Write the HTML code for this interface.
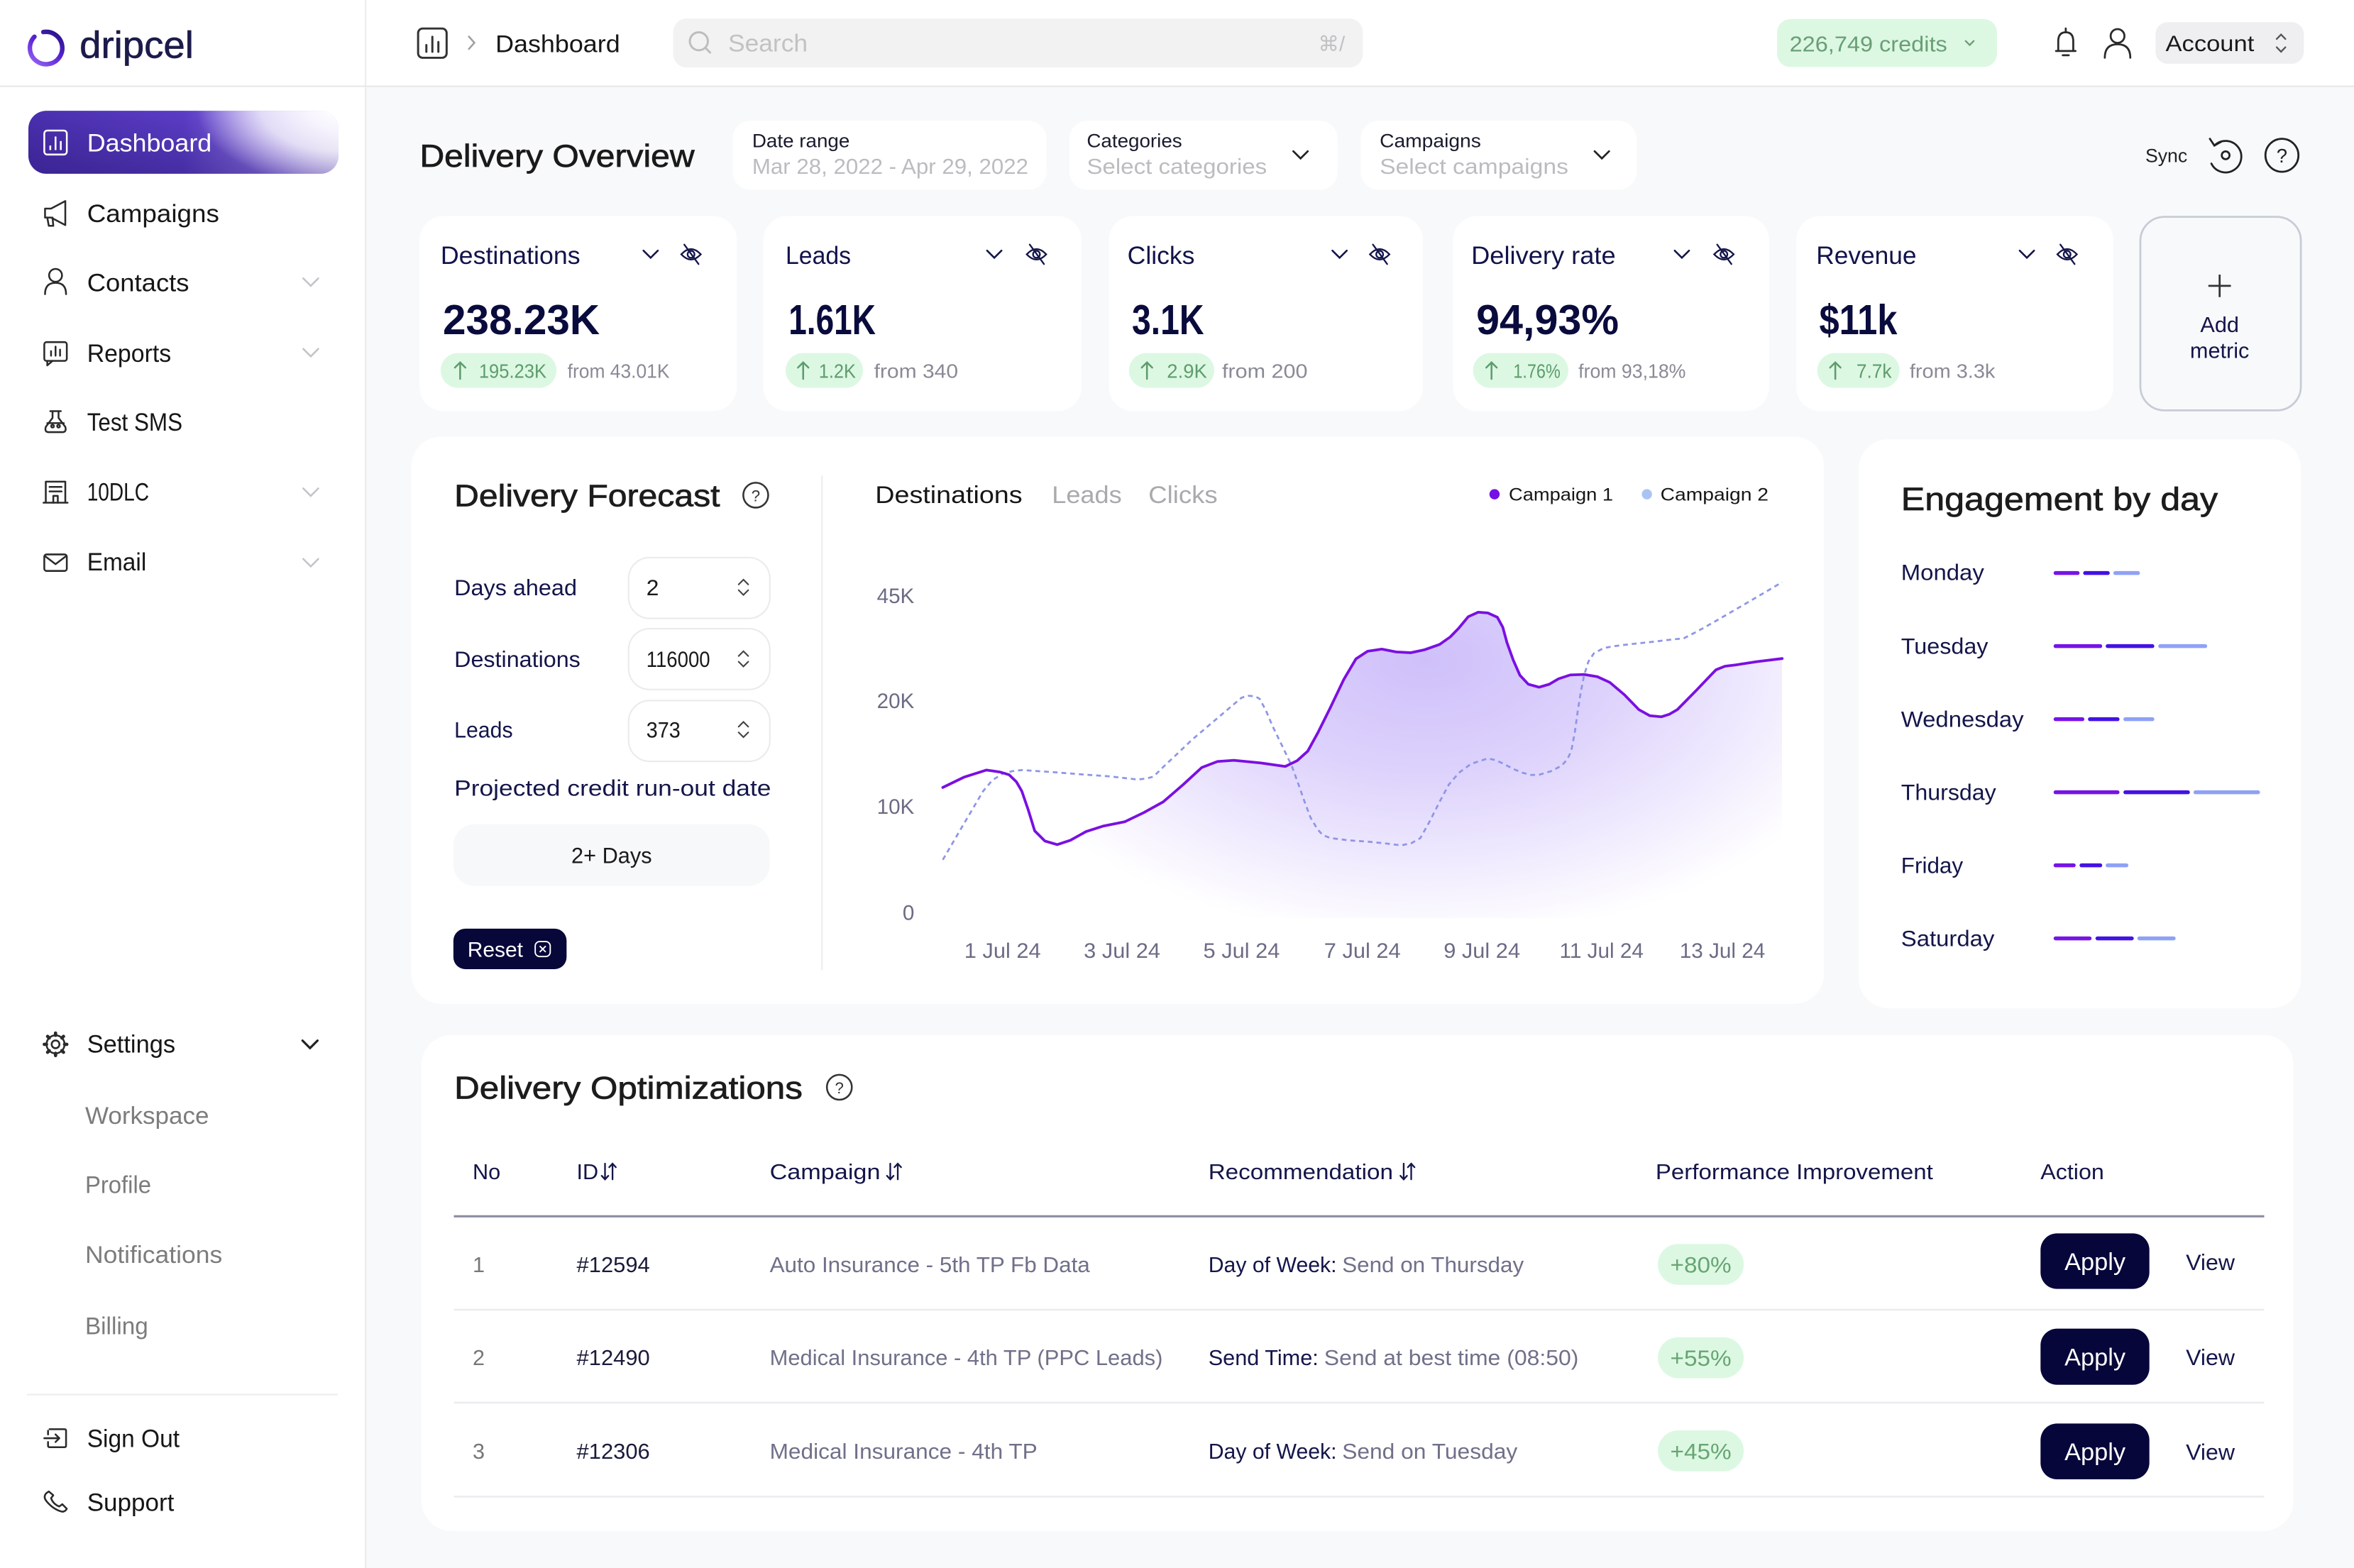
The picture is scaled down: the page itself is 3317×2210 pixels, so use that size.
<!DOCTYPE html>
<html><head><meta charset="utf-8"><style>
html,body{margin:0;padding:0;background:#f8f9fb;overflow:hidden;width:3317px;height:2210px}
svg{display:block}
text{font-family:"Liberation Sans","DejaVu Sans",sans-serif;}
</style></head><body>
<svg xmlns="http://www.w3.org/2000/svg" width="3317" height="2210" viewBox="0 0 1568 1045" preserveAspectRatio="none">
<defs>
 <linearGradient id="pill" x1="0" y1="0" x2="1" y2="0">
  <stop offset="0" stop-color="#4a2fae"/>
  <stop offset="0.5" stop-color="#5b3dc6"/>
  <stop offset="0.82" stop-color="#9c81ef"/>
  <stop offset="1" stop-color="#cdbffb"/>
 </linearGradient>
 <linearGradient id="pillDark" x1="0" y1="0" x2="0" y2="1">
  <stop offset="0" stop-color="#1e1060" stop-opacity="0"/>
  <stop offset="1" stop-color="#1e1060" stop-opacity="0.35"/>
 </linearGradient>
 <radialGradient id="pillWhite" cx="226" cy="72" r="95" gradientUnits="userSpaceOnUse" gradientTransform="translate(226 72) scale(1 0.55) translate(-226 -72)">
  <stop offset="0" stop-color="#ffffff" stop-opacity="1"/>
  <stop offset="0.55" stop-color="#ffffff" stop-opacity="0.75"/>
  <stop offset="1" stop-color="#ffffff" stop-opacity="0"/>
 </radialGradient>
 <linearGradient id="logoG" x1="0" y1="0" x2="1" y2="1">
  <stop offset="0" stop-color="#9a6af5"/>
  <stop offset="0.5" stop-color="#5a23d6"/>
  <stop offset="1" stop-color="#22127a"/>
 </linearGradient>
 <radialGradient id="areaG" cx="950" cy="440" r="310" gradientUnits="userSpaceOnUse" gradientTransform="translate(950 440) scale(1 0.6) translate(-950 -440)">
  <stop offset="0" stop-color="#cfc0fa"/>
  <stop offset="0.4" stop-color="#ddd2fc"/>
  <stop offset="0.75" stop-color="#f1ecfe"/>
  <stop offset="1" stop-color="#ffffff"/>
 </radialGradient>
 <clipPath id="chartClip"><rect x="600" y="300" width="587" height="312"/></clipPath>
</defs>

<!-- backgrounds -->
<rect x="0" y="0" width="1568" height="1045" fill="#f8f9fb"/>
<rect x="0" y="0" width="243.5" height="1045" fill="#ffffff"/>
<rect x="243.5" y="0" width="1324.5" height="57.5" fill="#ffffff"/>
<line x1="243.5" y1="0" x2="243.5" y2="1045" stroke="#ececef" stroke-width="1"/>
<line x1="0" y1="57.5" x2="1568" y2="57.5" stroke="#e8e8eb" stroke-width="1"/>

<!-- logo -->
<circle cx="30.7" cy="32" r="10.8" fill="none" stroke="url(#logoG)" stroke-width="3" stroke-dasharray="61 7" transform="rotate(-100 30.7 32)" stroke-linecap="round"/>
<text x="53" y="38.5" font-size="25" fill="#1c1b4b" stroke="#1c1b4b" stroke-width="0.3" textLength="76" lengthAdjust="spacingAndGlyphs">dripcel</text>

<!-- active pill -->
<rect x="18.9" y="73.8" width="206.6" height="42" rx="12" fill="url(#pill)"/>
<rect x="18.9" y="73.8" width="206.6" height="42" rx="12" fill="url(#pillDark)"/>
<rect x="18.9" y="73.8" width="206.6" height="42" rx="12" fill="url(#pillWhite)"/>
<g stroke="#ffffff" stroke-width="1.2" fill="none">
 <rect x="29.5" y="87" width="15" height="16" rx="2"/>
 <line x1="33.5" y1="97" x2="33.5" y2="100"/>
 <line x1="37" y1="91" x2="37" y2="100"/>
 <line x1="40.5" y1="94" x2="40.5" y2="100"/>
</g>
<text x="58" y="100.9" font-size="16.5" fill="#ffffff" textLength="83" lengthAdjust="spacingAndGlyphs">Dashboard</text>

<!-- nav items -->
<g font-size="16.5" fill="#161616">
 <text x="58" y="147.9" textLength="88" lengthAdjust="spacingAndGlyphs">Campaigns</text>
 <text x="58" y="194.1" textLength="68" lengthAdjust="spacingAndGlyphs">Contacts</text>
 <text x="58" y="241.2" textLength="56" lengthAdjust="spacingAndGlyphs">Reports</text>
 <text x="58" y="287" textLength="63.5" lengthAdjust="spacingAndGlyphs">Test SMS</text>
 <text x="58" y="333.5" textLength="41.3" lengthAdjust="spacingAndGlyphs">10DLC</text>
 <text x="58" y="380.1" textLength="39.5" lengthAdjust="spacingAndGlyphs">Email</text>
 <text x="58" y="701.5" textLength="58.8" lengthAdjust="spacingAndGlyphs">Settings</text>
 <text x="58" y="964.4" textLength="61.6" lengthAdjust="spacingAndGlyphs">Sign Out</text>
 <text x="58" y="1006.9" textLength="58" lengthAdjust="spacingAndGlyphs">Support</text>
</g>
<g font-size="16" fill="#7c7c7c">
 <text x="56.7" y="748.9" textLength="82.5" lengthAdjust="spacingAndGlyphs">Workspace</text>
 <text x="56.7" y="795" textLength="44" lengthAdjust="spacingAndGlyphs">Profile</text>
 <text x="56.7" y="841.6" textLength="91.4" lengthAdjust="spacingAndGlyphs">Notifications</text>
 <text x="56.7" y="889.1" textLength="42" lengthAdjust="spacingAndGlyphs">Billing</text>
</g>
<line x1="18" y1="929.4" x2="225" y2="929.4" stroke="#ececef" stroke-width="1"/>

<!-- nav icons -->
<g stroke="#2a2a2a" stroke-width="1.2" fill="none" stroke-linejoin="round" stroke-linecap="round">
 <path d="M30 139 L30 145 L34 145 L43.5 150 L43.5 134 L34 139 Z"/>
 <path d="M31.5 145 L32.5 150.5 L35.5 150.5 L35 145"/>
 <circle cx="37" cy="183.5" r="4.3"/>
 <path d="M30 196 Q30 188.5 37 188.5 Q44 188.5 44 196"/>
 <rect x="29.5" y="228" width="15" height="12.5" rx="1.5"/>
 <path d="M31.5 240.5 L31.5 243.5 L35 240.5"/>
 <line x1="34" y1="234" x2="34" y2="237"/>
 <line x1="37" y1="231" x2="37" y2="237"/>
 <line x1="40" y1="233" x2="40" y2="237"/>
 <path d="M33.5 274 L40.5 274 M35 274 L35 278.5 L30.5 284.5 Q29.5 288 32.5 288 L41.5 288 Q44.5 288 43.5 284.5 L39 278.5 L39 274"/>
 <circle cx="35" cy="284" r="0.9"/>
 <circle cx="39" cy="284" r="0.9"/>
 <path d="M31.5 282 L42.5 282"/>
 <path d="M29 335 L45 335 M30.5 335 L30.5 321 L43.5 321 L43.5 335"/>
 <path d="M33 324.5 L41 324.5 M33 327.5 L41 327.5 M35.5 335 L35.5 330.5 L38.5 330.5 L38.5 335"/>
 <rect x="29.5" y="369.5" width="15" height="11" rx="1.5"/>
 <path d="M29.8 370.5 L37 376 L44.2 370.5"/>
 <circle cx="37" cy="696" r="2.6"/>
 <circle cx="37" cy="696" r="6"/>
 <g stroke-width="2.2">
  <line x1="37" y1="688.5" x2="37" y2="690"/>
  <line x1="37" y1="702" x2="37" y2="703.5"/>
  <line x1="29.5" y1="696" x2="31" y2="696"/>
  <line x1="43" y1="696" x2="44.5" y2="696"/>
  <line x1="31.7" y1="690.7" x2="32.8" y2="691.8"/>
  <line x1="41.2" y1="700.2" x2="42.3" y2="701.3"/>
  <line x1="31.7" y1="701.3" x2="32.8" y2="700.2"/>
  <line x1="41.2" y1="691.8" x2="42.3" y2="690.7"/>
 </g>
 <path d="M33 952.5 L43 952.5 Q44 952.5 44 953.5 L44 963.5 Q44 964.5 43 964.5 L33 964.5 Q32 964.5 32 963.5 L32 961"/>
 <path d="M32 956 L32 953.5"/>
 <path d="M29.5 958.5 L39.5 958.5 M37 956 L39.5 958.5 L37 961"/>
 <path d="M31 995 Q28.5 997.5 31 1000.5 Q35.5 1006 41.5 1007.5 Q43.5 1007.5 44.5 1005.5 L41.5 1002.5 L39.5 1004 Q35.5 1002.5 34 998.5 L35.5 996.5 L32.5 994 Z"/>
</g>
<g stroke="#c4c4c8" stroke-width="1.2" fill="none" stroke-linecap="round">
 <path d="M202 185.5 L207 190.5 L212 185.5"/>
 <path d="M202 232.5 L207 237.5 L212 232.5"/>
 <path d="M202 325.5 L207 330.5 L212 325.5"/>
 <path d="M202 372.5 L207 377.5 L212 372.5"/>
</g>
<path d="M201.5 693.5 L206.5 698.5 L211.5 693.5" stroke="#222" stroke-width="1.5" fill="none" stroke-linecap="round"/>

<!-- header -->
<g stroke="#333" stroke-width="1.4" fill="none" stroke-linecap="round">
 <rect x="278.5" y="19" width="19" height="19.5" rx="3"/>
 <line x1="284" y1="30" x2="284" y2="34.5"/>
 <line x1="288" y1="24.5" x2="288" y2="34.5"/>
 <line x1="292" y1="28" x2="292" y2="34.5"/>
</g>
<path d="M312 24 L316 28.5 L312 33" stroke="#a0a0a0" stroke-width="1.2" fill="none"/>
<text x="330" y="34.8" font-size="16" fill="#161616" textLength="83" lengthAdjust="spacingAndGlyphs">Dashboard</text>

<rect x="448.4" y="12.3" width="459.4" height="32.7" rx="9" fill="#f2f2f3"/>
<g stroke="#bdbdbd" stroke-width="1.4" fill="none" stroke-linecap="round">
 <circle cx="465.5" cy="27.5" r="6"/>
 <line x1="469.8" y1="31.8" x2="473" y2="35"/>
</g>
<text x="485" y="34.3" font-size="16" fill="#c2c2c4" textLength="53" lengthAdjust="spacingAndGlyphs">Search</text>
<text x="878" y="34" font-size="14" fill="#c2c2c4">⌘/</text>

<rect x="1183.7" y="12.7" width="146.5" height="32" rx="9" fill="#dcf8e2"/>
<text x="1192" y="34.2" font-size="14.5" fill="#6a9e76" textLength="105" lengthAdjust="spacingAndGlyphs">226,749 credits</text>
<path d="M1309 27 L1312 30 L1315 27" stroke="#6a9e76" stroke-width="1.1" fill="none"/>

<g stroke="#2a2a2a" stroke-width="1.3" fill="none" stroke-linecap="round" stroke-linejoin="round">
 <path d="M1369.5 34 L1382.5 34 M1371 34 L1371 27.5 Q1371 21.5 1376 21.5 Q1381 21.5 1381 27.5 L1381 34"/>
 <path d="M1374 36.8 L1378 36.8 M1376 19 L1376 21.5"/>
 <circle cx="1410.5" cy="24" r="4.6"/>
 <path d="M1402 38.5 Q1402 29.5 1410.5 29.5 Q1419 29.5 1419 38.5"/>
</g>
<rect x="1435.8" y="14.8" width="98.8" height="27.7" rx="8" fill="#efeff1"/>
<text x="1442.5" y="34.1" font-size="15" fill="#1a1a1a" textLength="59" lengthAdjust="spacingAndGlyphs">Account</text>
<g stroke="#555" stroke-width="1.1" fill="none" stroke-linecap="round">
 <path d="M1516.5 26 L1519.4 23 L1522.3 26"/>
 <path d="M1516.5 31.5 L1519.4 34.5 L1522.3 31.5"/>
</g>

<!-- Delivery overview header -->
<text x="279.6" y="111.1" font-size="21" fill="#1a1a1a" stroke="#1a1a1a" stroke-width="0.35" textLength="183" lengthAdjust="spacingAndGlyphs">Delivery Overview</text>

<rect x="488" y="80.5" width="209" height="46" rx="12" fill="#ffffff"/>
<rect x="712.4" y="80.5" width="178.6" height="46" rx="12" fill="#ffffff"/>
<rect x="906.4" y="80.5" width="183.7" height="46" rx="12" fill="#ffffff"/>
<g font-size="12.5" fill="#1a1a2e">
 <text x="501" y="98.1" textLength="65" lengthAdjust="spacingAndGlyphs">Date range</text>
 <text x="723.9" y="98.1" textLength="63.5" lengthAdjust="spacingAndGlyphs">Categories</text>
 <text x="919" y="98.1" textLength="67.5" lengthAdjust="spacingAndGlyphs">Campaigns</text>
</g>
<g font-size="14.5" fill="#bcbcc0">
 <text x="501" y="115.9" textLength="184" lengthAdjust="spacingAndGlyphs">Mar 28, 2022 - Apr 29, 2022</text>
 <text x="723.9" y="115.9" textLength="120" lengthAdjust="spacingAndGlyphs">Select categories</text>
 <text x="919" y="115.9" textLength="125.7" lengthAdjust="spacingAndGlyphs">Select campaigns</text>
</g>
<g stroke="#222" stroke-width="1.3" fill="none" stroke-linecap="round">
 <path d="M861.5 100.8 L866.3 105.6 L871.1 100.8"/>
 <path d="M1062.2 100.8 L1067 105.6 L1071.8 100.8"/>
</g>
<text x="1429" y="108" font-size="12.5" fill="#222" textLength="28" lengthAdjust="spacingAndGlyphs">Sync</text>
<g stroke="#222" stroke-width="1.3" fill="none" stroke-linecap="round">
 <path d="M1475 97 A10.5 10.5 0 1 1 1473 109"/>
 <path d="M1472 92.5 L1475 97 L1479.5 94.5"/>
 <circle cx="1482.5" cy="103.5" r="2.6"/>
 <circle cx="1520" cy="103.5" r="11"/>
</g>
<text x="1520" y="108.3" font-size="13" fill="#222" text-anchor="middle">?</text>

<!-- metric cards -->
<g fill="#ffffff">
 <rect x="279.5" y="144" width="211.3" height="130" rx="16"/>
 <rect x="508.5" y="144" width="211.9" height="130" rx="16"/>
 <rect x="738.6" y="144" width="209.2" height="130" rx="16"/>
 <rect x="967.9" y="144" width="210.5" height="130" rx="16"/>
 <rect x="1196.5" y="144" width="211.2" height="130" rx="16"/>
</g>
<rect x="1425.7" y="144.5" width="106.9" height="129" rx="16" fill="#f8f9fb" stroke="#c8ccd6" stroke-width="1.3"/>
<g stroke="#333" stroke-width="1.3"><line x1="1478.5" y1="183" x2="1478.5" y2="198"/><line x1="1471" y1="190.5" x2="1486" y2="190.5"/></g>
<g font-size="14.5" fill="#14154a" text-anchor="middle">
 <text x="1478.5" y="221.4">Add</text>
 <text x="1478.5" y="238.6">metric</text>
</g>

<g font-size="16.5" fill="#12134a">
 <text x="293.5" y="175.9" textLength="93" lengthAdjust="spacingAndGlyphs">Destinations</text>
 <text x="523.3" y="175.9" textLength="43.5" lengthAdjust="spacingAndGlyphs">Leads</text>
 <text x="751" y="175.9" textLength="44.8" lengthAdjust="spacingAndGlyphs">Clicks</text>
 <text x="980" y="175.9" textLength="96.2" lengthAdjust="spacingAndGlyphs">Delivery rate</text>
 <text x="1209.8" y="175.9" textLength="66.8" lengthAdjust="spacingAndGlyphs">Revenue</text>
</g>
<g font-size="28" font-weight="bold" fill="#0a0b3d">
 <text x="295" y="222.6" textLength="104.5" lengthAdjust="spacingAndGlyphs">238.23K</text>
 <text x="525.3" y="222.6" textLength="58" lengthAdjust="spacingAndGlyphs">1.61K</text>
 <text x="754" y="222.6" textLength="48" lengthAdjust="spacingAndGlyphs">3.1K</text>
 <text x="983.3" y="222.6" textLength="95" lengthAdjust="spacingAndGlyphs">94,93%</text>
 <text x="1211.8" y="222.6" textLength="52" lengthAdjust="spacingAndGlyphs">$11k</text>
</g>
<g stroke="#14154a" stroke-width="1.2" fill="none" stroke-linecap="round">
 <path d="M428.6 167 L433.4 171.8 L438.2 167"/>
 <path d="M657.5 167 L662.3 171.8 L667.1 167"/>
 <path d="M887.5 167 L892.3 171.8 L897.1 167"/>
 <path d="M1115.5 167 L1120.3 171.8 L1125.1 167"/>
 <path d="M1345.3 167 L1350.1 171.8 L1354.9 167"/>
</g>
<g stroke="#14154a" stroke-width="1.1" fill="none" stroke-linecap="round">
 <g transform="translate(460.3 169.5)"><path d="M-6.5 0 Q0 -7 6.5 0 Q0 7 -6.5 0Z"/><circle r="2.3"/><line x1="-4.5" y1="-6.5" x2="5" y2="6.5"/></g>
 <g transform="translate(690.4 169.5)"><path d="M-6.5 0 Q0 -7 6.5 0 Q0 7 -6.5 0Z"/><circle r="2.3"/><line x1="-4.5" y1="-6.5" x2="5" y2="6.5"/></g>
 <g transform="translate(919 169.5)"><path d="M-6.5 0 Q0 -7 6.5 0 Q0 7 -6.5 0Z"/><circle r="2.3"/><line x1="-4.5" y1="-6.5" x2="5" y2="6.5"/></g>
 <g transform="translate(1148.3 169.5)"><path d="M-6.5 0 Q0 -7 6.5 0 Q0 7 -6.5 0Z"/><circle r="2.3"/><line x1="-4.5" y1="-6.5" x2="5" y2="6.5"/></g>
 <g transform="translate(1376.9 169.5)"><path d="M-6.5 0 Q0 -7 6.5 0 Q0 7 -6.5 0Z"/><circle r="2.3"/><line x1="-4.5" y1="-6.5" x2="5" y2="6.5"/></g>
</g>
<g fill="#dcf8e2">
 <rect x="293.5" y="235.3" width="77.2" height="23.2" rx="11.6"/>
 <rect x="523.3" y="235.3" width="51.5" height="23.2" rx="11.6"/>
 <rect x="752" y="235.3" width="56.8" height="23.2" rx="11.6"/>
 <rect x="981.2" y="235.3" width="63.5" height="23.2" rx="11.6"/>
 <rect x="1210.5" y="235.3" width="54.8" height="23.2" rx="11.6"/>
</g>
<g stroke="#5e9c6c" stroke-width="1.2" fill="none" stroke-linecap="round">
 <path d="M306.5 252.5 L306.5 241.5 M303 245 L306.5 241.5 L310 245"/>
 <path d="M535 252.5 L535 241.5 M531.5 245 L535 241.5 L538.5 245"/>
 <path d="M764 252.5 L764 241.5 M760.5 245 L764 241.5 L767.5 245"/>
 <path d="M993.5 252.5 L993.5 241.5 M990 245 L993.5 241.5 L997 245"/>
 <path d="M1222.5 252.5 L1222.5 241.5 M1219 245 L1222.5 241.5 L1226 245"/>
</g>
<g font-size="13" fill="#5e9c6c">
 <text x="319" y="251.7" textLength="45" lengthAdjust="spacingAndGlyphs">195.23K</text>
 <text x="545.4" y="251.7" textLength="24.7" lengthAdjust="spacingAndGlyphs">1.2K</text>
 <text x="777.3" y="251.7" textLength="26.7" lengthAdjust="spacingAndGlyphs">2.9K</text>
 <text x="1008" y="251.7" textLength="31.4" lengthAdjust="spacingAndGlyphs">1.76%</text>
 <text x="1236.6" y="251.7" textLength="23.4" lengthAdjust="spacingAndGlyphs">7.7k</text>
</g>
<g font-size="13" fill="#8a8a96">
 <text x="378" y="251.7" textLength="68" lengthAdjust="spacingAndGlyphs">from 43.01K</text>
 <text x="582.2" y="251.7" textLength="56" lengthAdjust="spacingAndGlyphs">from 340</text>
 <text x="814" y="251.7" textLength="57" lengthAdjust="spacingAndGlyphs">from 200</text>
 <text x="1051.4" y="251.7" textLength="71.5" lengthAdjust="spacingAndGlyphs">from 93,18%</text>
 <text x="1272" y="251.7" textLength="57" lengthAdjust="spacingAndGlyphs">from 3.3k</text>
</g>

<!-- Forecast card -->
<rect x="274" y="291" width="941" height="378" rx="20" fill="#ffffff"/>
<text x="302.6" y="337.4" font-size="20.5" fill="#1c1c1c" stroke="#1c1c1c" stroke-width="0.35" textLength="177" lengthAdjust="spacingAndGlyphs">Delivery Forecast</text>
<circle cx="503.4" cy="330" r="8.3" fill="none" stroke="#333" stroke-width="1.2"/>
<text x="503.4" y="334" font-size="10.5" fill="#333" text-anchor="middle">?</text>
<g font-size="15" fill="#14154a">
 <text x="302.6" y="396.8" textLength="81.7" lengthAdjust="spacingAndGlyphs">Days ahead</text>
 <text x="302.6" y="444.5" textLength="84" lengthAdjust="spacingAndGlyphs">Destinations</text>
 <text x="302.6" y="491.6" textLength="39" lengthAdjust="spacingAndGlyphs">Leads</text>
 <text x="302.6" y="530.2" textLength="211" lengthAdjust="spacingAndGlyphs">Projected credit run-out date</text>
</g>
<g fill="#ffffff" stroke="#ebebee" stroke-width="1">
 <rect x="418.7" y="371.6" width="94.1" height="40.5" rx="14"/>
 <rect x="418.7" y="419" width="94.1" height="40.5" rx="14"/>
 <rect x="418.7" y="466.9" width="94.1" height="40.5" rx="14"/>
</g>
<g font-size="15" fill="#1a1a1a">
 <text x="430.5" y="396.8">2</text>
 <text x="430.5" y="444.5" textLength="42.5" lengthAdjust="spacingAndGlyphs">116000</text>
 <text x="430.5" y="491.6" textLength="22.7" lengthAdjust="spacingAndGlyphs">373</text>
</g>
<g stroke="#444" stroke-width="1" fill="none" stroke-linecap="round">
 <path d="M492 389.5 L495.2 386.3 L498.4 389.5 M492 393.3 L495.2 396.5 L498.4 393.3"/>
 <path d="M492 437.2 L495.2 434 L498.4 437.2 M492 441 L495.2 444.2 L498.4 441"/>
 <path d="M492 484.3 L495.2 481.1 L498.4 484.3 M492 488.1 L495.2 491.3 L498.4 488.1"/>
</g>
<rect x="302" y="549.4" width="210.8" height="41" rx="14" fill="#f7f8fa"/>
<text x="407.4" y="575.2" font-size="15" fill="#1a1a1a" text-anchor="middle" textLength="53.7" lengthAdjust="spacingAndGlyphs">2+ Days</text>
<rect x="302" y="618.9" width="75.4" height="27" rx="8" fill="#07073a"/>
<text x="311.4" y="637.6" font-size="14" fill="#ffffff" textLength="37" lengthAdjust="spacingAndGlyphs">Reset</text>
<g stroke="#ffffff" stroke-width="0.9" fill="none">
 <rect x="356.5" y="627.5" width="10" height="10" rx="3"/>
 <path d="M359.5 630.5 L363.5 634.5 M363.5 630.5 L359.5 634.5"/>
</g>
<line x1="547.5" y1="317" x2="547.5" y2="646.6" stroke="#efeff2" stroke-width="1.2"/>

<!-- chart -->
<text x="583" y="335.2" font-size="16" fill="#161616" textLength="98" lengthAdjust="spacingAndGlyphs">Destinations</text>
<text x="700.7" y="335.2" font-size="16" fill="#a9a9ae" textLength="46.5" lengthAdjust="spacingAndGlyphs">Leads</text>
<text x="765" y="335.2" font-size="16" fill="#a9a9ae" textLength="46" lengthAdjust="spacingAndGlyphs">Clicks</text>
<circle cx="995.5" cy="329.4" r="3.4" fill="#7410e6"/>
<text x="1005" y="333.7" font-size="12" fill="#161616" textLength="69.5" lengthAdjust="spacingAndGlyphs">Campaign 1</text>
<circle cx="1097" cy="329.4" r="3.4" fill="#aac4f2"/>
<text x="1106" y="333.7" font-size="12" fill="#161616" textLength="72" lengthAdjust="spacingAndGlyphs">Campaign 2</text>

<g font-size="14" fill="#6b6b85" text-anchor="end">
 <text x="609" y="401.9">45K</text>
 <text x="609" y="471.9">20K</text>
 <text x="609" y="542.3">10K</text>
 <text x="609" y="613">0</text>
</g>
<g font-size="14" fill="#6b6b85" text-anchor="middle">
 <text x="667.8" y="638.3" textLength="51" lengthAdjust="spacingAndGlyphs">1 Jul 24</text>
 <text x="747.4" y="638.3" textLength="51" lengthAdjust="spacingAndGlyphs">3 Jul 24</text>
 <text x="827" y="638.3" textLength="51" lengthAdjust="spacingAndGlyphs">5 Jul 24</text>
 <text x="907.5" y="638.3" textLength="51" lengthAdjust="spacingAndGlyphs">7 Jul 24</text>
 <text x="987.1" y="638.3" textLength="51" lengthAdjust="spacingAndGlyphs">9 Jul 24</text>
 <text x="1066.8" y="638.3" textLength="56" lengthAdjust="spacingAndGlyphs">11 Jul 24</text>
 <text x="1147.3" y="638.3" textLength="57" lengthAdjust="spacingAndGlyphs">13 Jul 24</text>
</g>

<polygon clip-path="url(#chartClip)" fill="url(#areaG)" points="628,524.8 642,518 657.1,513.2 666,514.5 672.1,516.3 677,521 680.6,527.2 685,540 689.2,553.7 696,560.5 704.2,562.9 713,560 723.4,554.2 735,550.5 749.1,547.7 762,541.5 774.8,534.4 788,523 800.5,511.5 811,507.5 821.9,506.7 840,508.5 856.1,510.8 864,507 871.1,500.6 878,488 886.1,471.7 895,453 903.2,439.1 911,434 920.4,432.6 930,434.5 939.6,435 949,433 958.9,429.5 966,424.5 971.7,418.6 978,411 984.6,408 991,408.5 997.4,411.4 1001,418 1003.8,428.3 1008,440 1012.4,450 1018,456 1025.2,458 1032,456 1038.1,452.4 1046,449.8 1055.2,449.5 1064,451 1072.3,454.8 1082,463 1091.6,472.9 1099,477 1106.6,477.7 1112,476 1117.3,472.9 1130,460 1143,446.4 1149,444 1155.8,443.2 1170,441 1187.1,438.9 1187.1,612 628,612"/>

<polyline fill="none" stroke="#8e96e6" stroke-width="1.3" stroke-dasharray="3.2 2.6" stroke-linejoin="round" points="628,573 642.1,548.9 654.9,527.2 661,520 667.8,515.6 674,514 680.6,513.2 700,514.5 723.4,516.3 740,517.5 757.7,519.5 764,518.8 768.4,517.5 775,511 783.4,503.1 794,493 804.8,483.8 814,476 821.9,469.3 827,465 831.3,463.7 836,464 839,465.7 843,473 847.6,483.8 854,497 860.4,510.3 865,523 869,534.4 873,545 877.5,552.5 881,556.5 886.1,558.5 898,560 911.8,561 922,562 933.2,563.4 940,562 946.1,558.5 952,548 958.9,534.4 965,523 971.7,515.1 980,509 991,505.5 996,506.5 1001.7,509.1 1008,512.5 1014.5,515.1 1020,516.5 1025.2,516.3 1033,514 1040.2,510.3 1044,506 1046.6,500.6 1049,488 1050.9,474.1 1053,461 1055.2,450 1058,441 1061.6,435.5 1068,432 1074.5,430.7 1087,429.2 1100.2,427.8 1111,426.5 1121.6,425.4 1132,420 1143,413.8 1165,401 1187.1,388"/>

<polyline fill="none" stroke="#7a0fe2" stroke-width="1.8" stroke-linejoin="round" stroke-linecap="round" points="628,524.8 642,518 657.1,513.2 666,514.5 672.1,516.3 677,521 680.6,527.2 685,540 689.2,553.7 696,560.5 704.2,562.9 713,560 723.4,554.2 735,550.5 749.1,547.7 762,541.5 774.8,534.4 788,523 800.5,511.5 811,507.5 821.9,506.7 840,508.5 856.1,510.8 864,507 871.1,500.6 878,488 886.1,471.7 895,453 903.2,439.1 911,434 920.4,432.6 930,434.5 939.6,435 949,433 958.9,429.5 966,424.5 971.7,418.6 978,411 984.6,408 991,408.5 997.4,411.4 1001,418 1003.8,428.3 1008,440 1012.4,450 1018,456 1025.2,458 1032,456 1038.1,452.4 1046,449.8 1055.2,449.5 1064,451 1072.3,454.8 1082,463 1091.6,472.9 1099,477 1106.6,477.7 1112,476 1117.3,472.9 1130,460 1143,446.4 1149,444 1155.8,443.2 1170,441 1187.1,438.9"/>

<!-- Engagement card -->
<rect x="1238" y="292.7" width="294.8" height="379.3" rx="20" fill="#ffffff"/>
<text x="1266.3" y="340.1" font-size="21.5" fill="#1c1c1c" stroke="#1c1c1c" stroke-width="0.35" textLength="211" lengthAdjust="spacingAndGlyphs">Engagement by day</text>
<g font-size="15" fill="#14154a">
 <text x="1266.3" y="386.5" textLength="55.3" lengthAdjust="spacingAndGlyphs">Monday</text>
 <text x="1266.3" y="435.7" textLength="58" lengthAdjust="spacingAndGlyphs">Tuesday</text>
 <text x="1266.3" y="484.4" textLength="81.7" lengthAdjust="spacingAndGlyphs">Wednesday</text>
 <text x="1266.3" y="533.1" textLength="63.3" lengthAdjust="spacingAndGlyphs">Thursday</text>
 <text x="1266.3" y="581.8" textLength="41.3" lengthAdjust="spacingAndGlyphs">Friday</text>
 <text x="1266.3" y="630.5" textLength="62.2" lengthAdjust="spacingAndGlyphs">Saturday</text>
</g>
<g stroke-width="2.6" stroke-linecap="round">
 <g stroke="#7614e6">
  <line x1="1369.2" y1="381.9" x2="1383.9" y2="381.9"/>
  <line x1="1369.2" y1="430.6" x2="1399" y2="430.6"/>
  <line x1="1369.2" y1="479.3" x2="1387.1" y2="479.3"/>
  <line x1="1369.2" y1="528" x2="1410.5" y2="528"/>
  <line x1="1369.2" y1="576.7" x2="1381.3" y2="576.7"/>
  <line x1="1369.2" y1="625.4" x2="1391.9" y2="625.4"/>
 </g>
 <g stroke="#4312e4">
  <line x1="1388.9" y1="381.9" x2="1404" y2="381.9"/>
  <line x1="1403.9" y1="430.6" x2="1433.7" y2="430.6"/>
  <line x1="1392.1" y1="479.3" x2="1410.5" y2="479.3"/>
  <line x1="1415.7" y1="528" x2="1457.4" y2="528"/>
  <line x1="1386.5" y1="576.7" x2="1399" y2="576.7"/>
  <line x1="1397.1" y1="625.4" x2="1420" y2="625.4"/>
 </g>
 <g stroke="#8fa1f6">
  <line x1="1409" y1="381.9" x2="1424.1" y2="381.9"/>
  <line x1="1438.9" y1="430.6" x2="1468.9" y2="430.6"/>
  <line x1="1415.7" y1="479.3" x2="1433.7" y2="479.3"/>
  <line x1="1462.4" y1="528" x2="1504.1" y2="528"/>
  <line x1="1403.9" y1="576.7" x2="1416.4" y2="576.7"/>
  <line x1="1425" y1="625.4" x2="1447.9" y2="625.4"/>
 </g>
</g>

<!-- Optimizations card -->
<rect x="280.7" y="689.8" width="1247" height="330.5" rx="20" fill="#ffffff"/>
<text x="302.6" y="732.2" font-size="21" fill="#1c1c1c" stroke="#1c1c1c" stroke-width="0.35" textLength="232" lengthAdjust="spacingAndGlyphs">Delivery Optimizations</text>
<circle cx="559.1" cy="724.6" r="8.3" fill="none" stroke="#333" stroke-width="1.2"/>
<text x="559.1" y="728.6" font-size="10.5" fill="#333" text-anchor="middle">?</text>

<g font-size="14.5" fill="#14154a">
 <text x="314.8" y="785.9">No</text>
 <text x="384.1" y="785.9">ID</text>
 <text x="512.7" y="785.9" textLength="73.7" lengthAdjust="spacingAndGlyphs">Campaign</text>
 <text x="804.9" y="785.9" textLength="123" lengthAdjust="spacingAndGlyphs">Recommendation</text>
 <text x="1102.8" y="785.9" textLength="184.8" lengthAdjust="spacingAndGlyphs">Performance Improvement</text>
 <text x="1359.2" y="785.9" textLength="42.3" lengthAdjust="spacingAndGlyphs">Action</text>
</g>
<g stroke="#14154a" stroke-width="1.1" fill="none" stroke-linecap="round">
 <path d="M403 775.5 L403 786 M400.8 783.6 L403 786 L405.2 783.6 M408 786 L408 775.5 M405.8 777.9 L408 775.5 L410.2 777.9"/>
 <path d="M593 775.5 L593 786 M590.8 783.6 L593 786 L595.2 783.6 M598 786 L598 775.5 M595.8 777.9 L598 775.5 L600.2 777.9"/>
 <path d="M935 775.5 L935 786 M932.8 783.6 L935 786 L937.2 783.6 M940 786 L940 775.5 M937.8 777.9 L940 775.5 L942.2 777.9"/>
</g>
<line x1="302.3" y1="810.6" x2="1508.2" y2="810.6" stroke="#8c8ca4" stroke-width="1.5"/>
<g stroke="#ececf0" stroke-width="1.2">
 <line x1="302.3" y1="872.9" x2="1508.2" y2="872.9"/>
 <line x1="302.3" y1="934.8" x2="1508.2" y2="934.8"/>
 <line x1="302.3" y1="997.4" x2="1508.2" y2="997.4"/>
</g>

<g font-size="14.5">
 <text x="314.8" y="847.8" fill="#777">1</text>
 <text x="314.8" y="909.7" fill="#777">2</text>
 <text x="314.8" y="972.3" fill="#777">3</text>
 <text x="384.1" y="847.8" fill="#1a1a3a" textLength="48.8" lengthAdjust="spacingAndGlyphs">#12594</text>
 <text x="384.1" y="909.7" fill="#1a1a3a" textLength="48.8" lengthAdjust="spacingAndGlyphs">#12490</text>
 <text x="384.1" y="972.3" fill="#1a1a3a" textLength="48.8" lengthAdjust="spacingAndGlyphs">#12306</text>
 <text x="512.7" y="847.8" fill="#70708a" textLength="213.3" lengthAdjust="spacingAndGlyphs">Auto Insurance - 5th TP Fb Data</text>
 <text x="512.7" y="909.7" fill="#70708a" textLength="261.8" lengthAdjust="spacingAndGlyphs">Medical Insurance - 4th TP (PPC Leads)</text>
 <text x="512.7" y="972.3" fill="#70708a" textLength="178.3" lengthAdjust="spacingAndGlyphs">Medical Insurance - 4th TP</text>
 <text x="804.9" y="847.8" fill="#14154a" textLength="85.5" lengthAdjust="spacingAndGlyphs">Day of Week:</text>
 <text x="894" y="847.8" fill="#70708a" textLength="121" lengthAdjust="spacingAndGlyphs">Send on Thursday</text>
 <text x="804.9" y="909.7" fill="#14154a" textLength="73.3" lengthAdjust="spacingAndGlyphs">Send Time:</text>
 <text x="882" y="909.7" fill="#70708a" textLength="169.5" lengthAdjust="spacingAndGlyphs">Send at best time (08:50)</text>
 <text x="804.9" y="972.3" fill="#14154a" textLength="85.5" lengthAdjust="spacingAndGlyphs">Day of Week:</text>
 <text x="894" y="972.3" fill="#70708a" textLength="116.8" lengthAdjust="spacingAndGlyphs">Send on Tuesday</text>
</g>
<g fill="#dcf8e2">
 <rect x="1104.3" y="829" width="57.2" height="27.3" rx="13.6"/>
 <rect x="1104.3" y="891.2" width="57.2" height="27.3" rx="13.6"/>
 <rect x="1104.3" y="953.3" width="57.2" height="27.3" rx="13.6"/>
</g>
<g font-size="15" fill="#68a574" text-anchor="middle">
 <text x="1132.9" y="848" textLength="40.7" lengthAdjust="spacingAndGlyphs">+80%</text>
 <text x="1132.9" y="910.2" textLength="40.7" lengthAdjust="spacingAndGlyphs">+55%</text>
 <text x="1132.9" y="972.4" textLength="40.7" lengthAdjust="spacingAndGlyphs">+45%</text>
</g>
<g fill="#06063a">
 <rect x="1359.2" y="822" width="72.5" height="37" rx="11"/>
 <rect x="1359.2" y="885.5" width="72.5" height="37.4" rx="11"/>
 <rect x="1359.2" y="948.7" width="72.5" height="37.2" rx="11"/>
</g>
<g font-size="16" fill="#ffffff" text-anchor="middle">
 <text x="1395.5" y="846.3" textLength="40.6" lengthAdjust="spacingAndGlyphs">Apply</text>
 <text x="1395.5" y="910" textLength="40.6" lengthAdjust="spacingAndGlyphs">Apply</text>
 <text x="1395.5" y="973.1" textLength="40.6" lengthAdjust="spacingAndGlyphs">Apply</text>
</g>
<g font-size="15" fill="#14154a">
 <text x="1456" y="846.3" textLength="32.6" lengthAdjust="spacingAndGlyphs">View</text>
 <text x="1456" y="909.8" textLength="32.6" lengthAdjust="spacingAndGlyphs">View</text>
 <text x="1456" y="973" textLength="32.6" lengthAdjust="spacingAndGlyphs">View</text>
</g>
</svg>
</body></html>
